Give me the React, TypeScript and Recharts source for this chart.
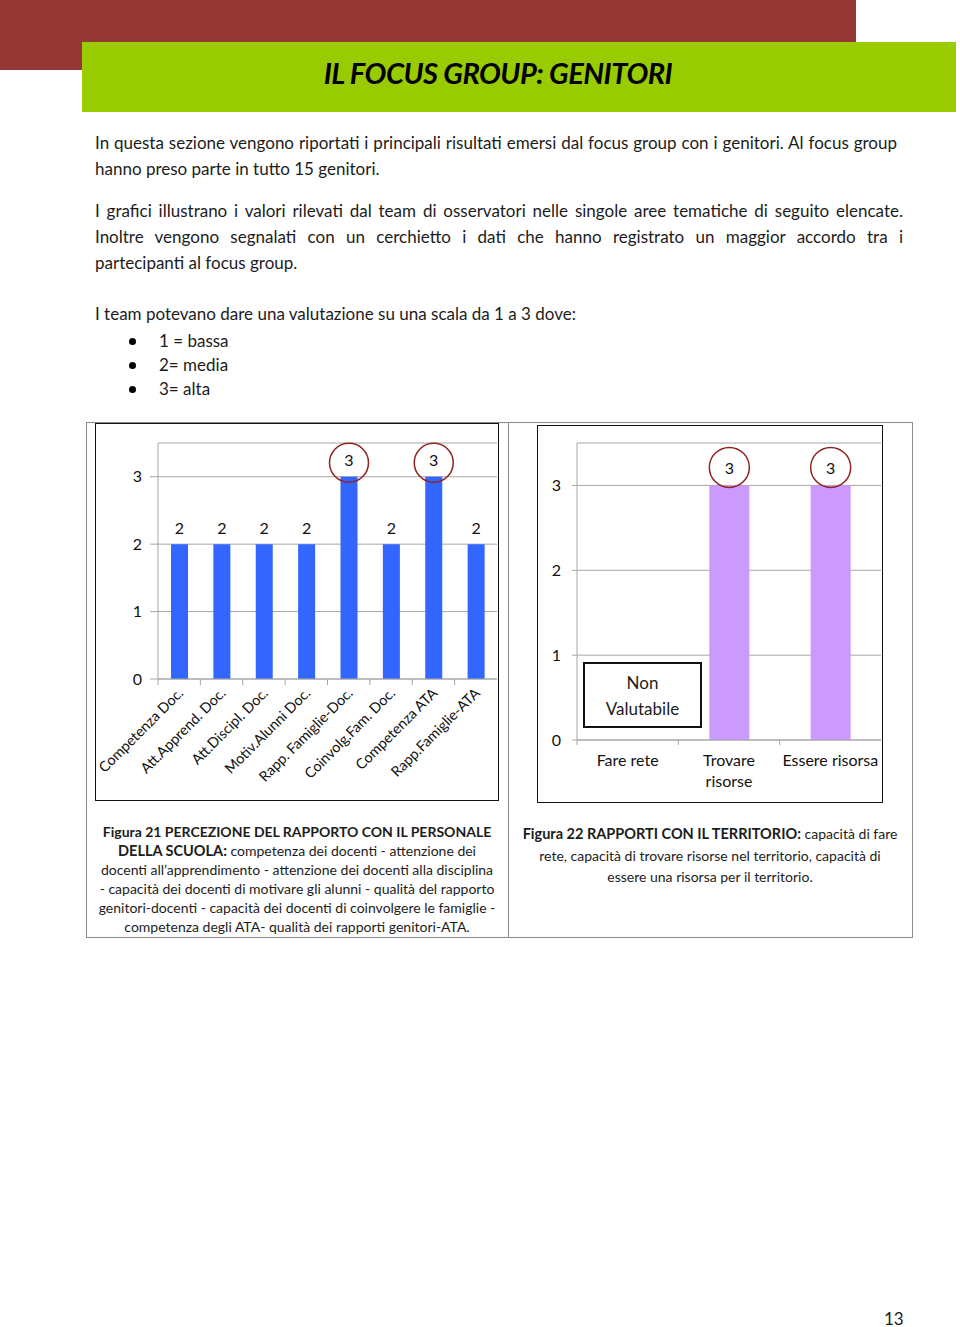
import { BarChart, Bar, XAxis, YAxis, CartesianGrid, Rectangle } from "recharts";

// Figura 21 - percezione del rapporto con il personale della scuola
const personaleCategories = [
  "Competenza  Doc.",
  "Att.Apprend. Doc.",
  "Att.Discipl. Doc.",
  "Motiv.Alunni Doc.",
  "Rapp. Famiglie-Doc.",
  "Coinvolg.Fam. Doc.",
  "Competenza ATA",
  "Rapp.Famiglie-ATA",
];
const personaleValues = [2, 2, 2, 2, 3, 2, 3, 2];
const personaleCircled = [false, false, false, false, true, false, true, false];

// Figura 22 - rapporti con il territorio (Fare rete: non valutabile)
const territorioCategories = ["Fare rete", "Trovare risorse", "Essere risorsa"];
const territorioTickLines = [["Fare rete"], ["Trovare", "risorse"], ["Essere risorsa"]];
const territorioValues: (number | null)[] = [null, 3, 3];
const territorioCircled = [false, true, true];

const yTicks = [0, 1, 2, 3];

const personaleData = personaleCategories.map((name, i) => ({
  name,
  value: personaleValues[i],
  circled: personaleCircled[i],
}));
const territorioData = territorioCategories.map((name, i) => ({
  name,
  value: territorioValues[i],
  circled: territorioCircled[i],
}));

const FONT = "Lato, 'Open Sans', sans-serif";
const GRID = "#A6A6A6";
const CIRCLE = "#8E2424";

// bar + value label (+ circle for the highest agreement)
const makeBarShape = (lift: number, r: number, shift: number) => (props: any) => {
  const { x, y, width, height, fill, payload } = props;
  const value = payload?.value;
  if (value == null) return <g />;
  const cx = Number(x) + Number(width) / 2;
  const cy = Number(y) - lift;
  return (
    <g>
      <Rectangle x={x} y={y} width={width} height={height} fill={fill} />
      {payload.circled && (
        <circle cx={cx} cy={cy + shift} r={r} fill="none" stroke={CIRCLE} strokeWidth={1.5} />
      )}
      <text
        x={cx}
        y={cy}
        textAnchor="middle"
        dominantBaseline="central"
        fontSize={16}
        fontFamily={FONT}
        fill="#111"
      >
        {value}
      </text>
    </g>
  );
};

const RotatedTick = (props: any) => {
  const { x, y, payload } = props;
  const half = payload?.offset ?? 21;
  return (
    <g>
      <line x1={x - half} y1={y} x2={x - half} y2={y + 6} stroke={GRID} />
      <text
        x={x + 5}
        y={y + 15}
        textAnchor="end"
        transform={`rotate(-45 ${x + 5} ${y + 15})`}
        fontSize={14.4}
        fontFamily={FONT}
        fill="#111"
      >
        {payload.value}
      </text>
    </g>
  );
};

const TerritorioTick = (props: any) => {
  const { x, y, payload, index } = props;
  const half = payload?.offset ?? 51;
  const lines = territorioTickLines[index] ?? [payload.value];
  return (
    <g>
      <line x1={x - half} y1={y} x2={x - half} y2={y + 5} stroke={GRID} />
      <text textAnchor="middle" fontSize={16} fontFamily={FONT} fill="#111">
        {lines.map((l, i) => (
          <tspan key={i} x={x} y={y + 26 + i * 21}>
            {l}
          </tspan>
        ))}
      </text>
    </g>
  );
};

const lineStyle = (top: number, left: number, extra: any = {}) => ({
  position: "absolute" as const,
  top,
  left,
  whiteSpace: "nowrap" as const,
  lineHeight: "20px",
  ...extra,
});

const justified = (width: number) => ({
  width,
  textAlign: "justify" as const,
  textAlignLast: "justify" as const,
});

export default function App() {
  return (
    <div
      style={{
        position: "absolute",
        left: 0,
        top: 0,
        width: 960,
        height: 1327,
        background: "#fff",
        fontFamily: FONT,
        color: "#1c1c1c",
        fontSize: 17,
      }}
    >
      {/* header bands */}
      <div style={{ position: "absolute", left: 0, top: 0, width: 856, height: 70, background: "#953735" }} />
      <div style={{ position: "absolute", left: 82, top: 42, width: 874, height: 70, background: "#99CC00" }} />
      <div
        style={{
          position: "absolute",
          left: 82,
          top: 42,
          width: 832,
          height: 70,
          lineHeight: "62px",
          textAlign: "center",
          fontSize: 29,
          fontWeight: 700,
          fontStyle: "italic",
          color: "#000",
          letterSpacing: -0.5,
        }}
      >
        IL FOCUS GROUP: GENITORI
      </div>

      {/* intro text */}
      <div style={lineStyle(133, 95, justified(802))}>
        In questa sezione vengono riportati i principali risultati emersi dal focus group con i genitori. Al focus group
      </div>
      <div style={lineStyle(159, 95)}>hanno preso parte in tutto 15 genitori.</div>
      <div style={lineStyle(201, 95, justified(808))}>
        I grafici illustrano i valori rilevati dal team di osservatori nelle singole aree tematiche di seguito elencate.
      </div>
      <div style={lineStyle(227, 95, justified(808))}>
        Inoltre vengono segnalati con un cerchietto i dati che hanno registrato un maggior accordo tra i
      </div>
      <div style={lineStyle(253, 95)}>partecipanti al focus group.</div>
      <div style={lineStyle(304, 95)}>I team potevano dare una valutazione su una scala da 1 a 3 dove:</div>
      {["1 = bassa", "2= media", "3= alta"].map((t, i) => (
        <div key={t}>
          <div
            style={{
              position: "absolute",
              left: 129,
              top: 338 + i * 24,
              width: 7,
              height: 7,
              borderRadius: 4,
              background: "#000",
            }}
          />
          <div style={lineStyle(331 + i * 24, 159)}>{t}</div>
        </div>
      ))}

      {/* table */}
      <div
        style={{
          position: "absolute",
          left: 86,
          top: 422,
          width: 825,
          height: 514,
          border: "1px solid #8a8a8a",
        }}
      />
      <div style={{ position: "absolute", left: 508, top: 422, width: 1, height: 515, background: "#8a8a8a" }} />

      {/* chart 1 */}
      <div
        style={{
          position: "absolute",
          left: 95,
          top: 423,
          width: 404,
          height: 378,
          border: "1.5px solid #111",
          boxSizing: "border-box",
        }}
      >
        <BarChart
          width={401}
          height={375}
          data={personaleData}
          margin={{ top: 19, right: 0, bottom: 0, left: 0 }}
          barCategoryGap={0}
        >
          <CartesianGrid vertical={false} stroke={GRID} />
          <XAxis
            dataKey="name"
            interval={0}
            height={120}
            tickLine={false}
            tickSize={0}
            tickMargin={0}
            axisLine={{ stroke: GRID }}
            tick={<RotatedTick />}
          />
          <YAxis
            width={62}
            domain={[0, 3.5]}
            ticks={yTicks}
            tickSize={8}
            tickMargin={8}
            axisLine={{ stroke: GRID }}
            tickLine={{ stroke: GRID }}
            tick={{ fontSize: 16, fill: "#111", fontFamily: FONT }}
          />
          <Bar
            dataKey="value"
            fill="#3366FF"
            barSize={17}
            isAnimationActive={false}
            shape={makeBarShape(17, 19.5, 3)}
          />
        </BarChart>
      </div>

      {/* chart 2 */}
      <div
        style={{
          position: "absolute",
          left: 537,
          top: 425,
          width: 346,
          height: 378,
          border: "1.5px solid #111",
          boxSizing: "border-box",
        }}
      >
        <BarChart
          width={343}
          height={375}
          data={territorioData}
          margin={{ top: 17, right: 0, bottom: 0, left: 0 }}
          barCategoryGap={0}
        >
          <CartesianGrid vertical={false} stroke={GRID} />
          <XAxis
            dataKey="name"
            interval={0}
            height={61}
            tickLine={false}
            tickSize={0}
            tickMargin={0}
            axisLine={{ stroke: GRID }}
            tick={<TerritorioTick />}
          />
          <YAxis
            width={39}
            domain={[0, 3.5]}
            ticks={yTicks}
            tickSize={5}
            tickMargin={11}
            axisLine={{ stroke: GRID }}
            tickLine={{ stroke: GRID }}
            tick={{ fontSize: 16, fill: "#111", fontFamily: FONT }}
          />
          <Bar
            dataKey="value"
            fill="#CC99FF"
            barSize={40}
            isAnimationActive={false}
            shape={makeBarShape(18, 20, 0)}
          />
        </BarChart>
        <div
          style={{
            position: "absolute",
            left: 45,
            top: 236,
            width: 119,
            height: 66,
            border: "2px solid #111",
            boxSizing: "border-box",
            textAlign: "center",
            fontSize: 17,
            lineHeight: "26px",
            paddingTop: 6,
          }}
        >
          Non
          <br />
          Valutabile
        </div>
      </div>

      {/* captions */}
      <div style={{ position: "absolute", left: 87, width: 420, top: 822, textAlign: "center", fontSize: 14, lineHeight: "19px" }}>
        <div style={{ fontWeight: 700, fontSize: 14, whiteSpace: "nowrap" }}>
          Figura 21 PERCEZIONE DEL RAPPORTO CON IL PERSONALE
        </div>
        <div style={{ whiteSpace: "nowrap" }}>
          <b style={{ fontSize: 14.5 }}>DELLA SCUOLA:</b> competenza dei docenti - attenzione dei
        </div>
        <div style={{ whiteSpace: "nowrap" }}>docenti all’apprendimento  - attenzione dei docenti alla disciplina</div>
        <div style={{ whiteSpace: "nowrap" }}>- capacità dei docenti di motivare gli alunni - qualità del rapporto</div>
        <div style={{ whiteSpace: "nowrap" }}>genitori-docenti - capacità dei docenti di coinvolgere le famiglie -</div>
        <div style={{ whiteSpace: "nowrap" }}>competenza degli ATA- qualità dei rapporti genitori-ATA.</div>
      </div>
      <div style={{ position: "absolute", left: 509, width: 402, top: 823, textAlign: "center", fontSize: 14, lineHeight: "21.5px" }}>
        <div style={{ whiteSpace: "nowrap" }}>
          <b style={{ fontSize: 14.5 }}>Figura 22 RAPPORTI CON IL TERRITORIO:</b> capacità di fare
        </div>
        <div style={{ whiteSpace: "nowrap" }}>rete, capacità di trovare risorse nel territorio, capacità di</div>
        <div style={{ whiteSpace: "nowrap" }}>essere una risorsa per il territorio.</div>
      </div>

      {/* page number */}
      <div style={lineStyle(1309, 884, { fontSize: 17 })}>13</div>
    </div>
  );
}
